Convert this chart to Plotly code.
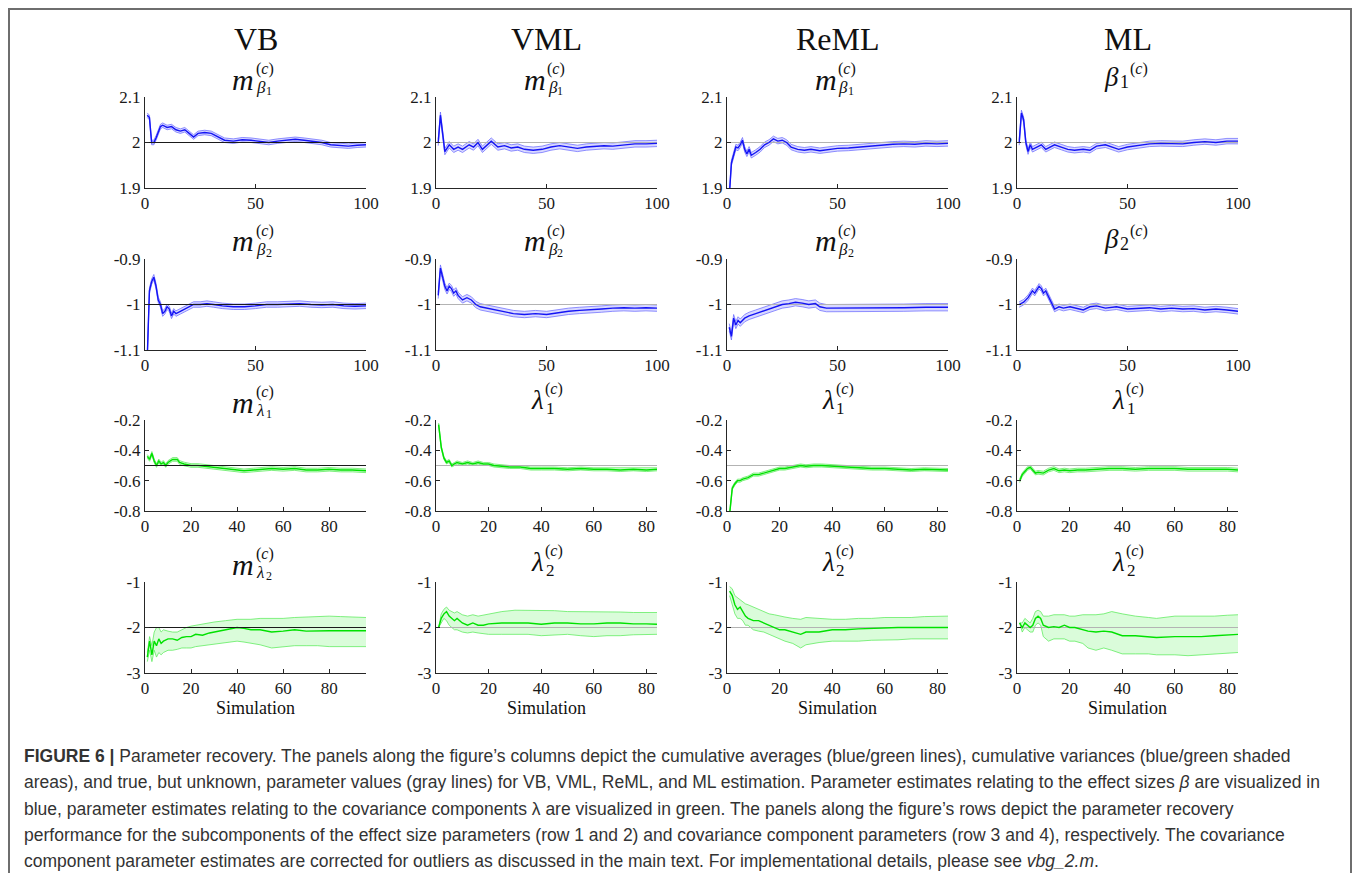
import plotly.graph_objects as go

# ---------------- data ----------------
COLUMN_TITLES = ["VB", "VML", "ReML", "ML"]
TRUE_VALUES = [2, -1, -0.5, -2]
X_LABEL = "Simulation"

# Row 1: beta_1
VB_B1_X = [1,2,3,4,5,7,8,10,12,14,16,18,20,22,24,27,30,33,36,40,44,48,52,56,60,64,68,72,76,80,84,88,92,96,100]
VB_B1_M = [2.06,2.055,2.0,2.0,2.01,2.035,2.038,2.033,2.035,2.028,2.025,2.028,2.02,2.012,2.02,2.022,2.02,2.012,2.005,2.003,
           2.006,2.005,2.003,2.0,2.003,2.005,2.007,2.005,2.002,2.0,1.995,1.993,1.992,1.994,1.995]
VML_B1_X = [1,2,4,6,8,10,12,15,17,19,21,23,25,28,31,34,37,40,44,48,52,56,60,64,68,72,76,80,85,90,95,100]
VML_B1_M = [2.0,2.06,1.98,1.995,1.985,1.99,1.985,1.995,1.99,2.0,1.985,1.995,2.003,1.99,1.993,1.988,1.99,1.985,1.983,1.985,
            1.99,1.993,1.99,1.987,1.99,1.992,1.993,1.992,1.995,1.997,1.997,1.998]
REML_B1_X = [1,2,4,5,6,7,8,9,10,11,13,15,17,19,21,23,25,27,29,32,35,38,42,46,50,55,60,65,70,75,80,85,90,95,100]
REML_B1_M = [1.88,1.955,1.99,1.988,1.995,2.005,1.985,1.975,1.985,1.972,1.978,1.985,1.995,2.0,2.008,2.003,2.005,2.0,1.99,1.985,
             1.983,1.985,1.982,1.985,1.987,1.988,1.99,1.992,1.995,1.996,1.997,1.996,1.998,1.997,1.998]
ML_B1_X = [1,2,3,4,5,6,7,9,11,13,15,17,20,23,26,30,33,36,40,43,46,50,55,60,65,70,75,80,85,90,95,100]
ML_B1_M = [2.0,2.065,2.05,2.0,1.98,1.995,1.985,1.99,1.995,1.985,1.99,1.995,1.99,1.985,1.983,1.985,1.983,1.992,1.995,1.99,
           1.985,1.99,1.993,1.997,1.998,1.998,1.997,2.0,2.002,2.0,2.003,2.003]
B1_BAND = [0.005, 0.007, 0.006, 0.006]

# Row 2: beta_2
VB_B2_X = [1,2,3,4,5,6,7,8,9,10,11,12,13,14,16,18,20,22,25,28,31,35,40,45,50,55,60,65,70,75,80,85,90,95,100]
VB_B2_M = [-1.12,-0.97,-0.95,-0.94,-0.96,-0.99,-1.0,-1.02,-1.015,-1.005,-1.01,-1.025,-1.015,-1.02,-1.015,-1.01,-1.005,-1.0,-1.0,
           -0.998,-1.0,-1.003,-1.005,-1.005,-1.003,-1.0,-1.0,-0.999,-0.998,-1.0,-1.001,-1.0,-1.003,-1.004,-1.003]
VML_B2_X = [1,2,3,4,5,6,7,8,9,10,12,14,16,18,20,25,30,35,40,45,50,55,60,65,70,75,80,85,90,95,100]
VML_B2_M = [-0.98,-0.92,-0.94,-0.96,-0.97,-0.96,-0.965,-0.975,-0.97,-0.98,-0.99,-0.985,-0.99,-1.0,-1.005,-1.01,-1.015,-1.02,
            -1.022,-1.02,-1.022,-1.018,-1.015,-1.013,-1.012,-1.01,-1.008,-1.007,-1.008,-1.007,-1.008]
REML_B2_X = [1,2,3,4,5,6,8,10,13,16,19,22,25,28,31,34,37,40,42,45,50,55,60,70,80,90,100]
REML_B2_M = [-1.05,-1.07,-1.03,-1.045,-1.035,-1.04,-1.03,-1.025,-1.02,-1.015,-1.01,-1.005,-1.0,-0.998,-0.995,-0.997,-1.0,-0.998,
             -1.005,-1.008,-1.008,-1.007,-1.008,-1.007,-1.007,-1.006,-1.006]
ML_B2_X = [1,3,5,7,8,10,11,12,13,14,15,16,17,19,21,24,27,30,33,36,40,45,50,55,60,65,70,75,80,85,90,95,100]
ML_B2_M = [-1.0,-0.995,-0.985,-0.97,-0.975,-0.96,-0.965,-0.975,-0.97,-0.98,-0.99,-1.0,-1.01,-1.005,-1.008,-1.005,-1.008,-1.012,
           -1.005,-1.003,-1.008,-1.005,-1.01,-1.008,-1.007,-1.01,-1.008,-1.01,-1.009,-1.012,-1.01,-1.012,-1.015]
B2_BAND = [0.006, 0.007, 0.008, 0.006]

# Row 3: lambda_1
VB_L1_X = [1,2,3,4,5,6,7,8,9,10,11,12,14,15,17,20,23,26,30,35,40,43,47,52,55,60,65,70,75,80,85,90,96]
VB_L1_M = [-0.44,-0.46,-0.42,-0.47,-0.5,-0.47,-0.49,-0.48,-0.5,-0.48,-0.47,-0.46,-0.46,-0.48,-0.49,-0.5,-0.5,-0.505,-0.51,-0.52,
           -0.53,-0.535,-0.53,-0.525,-0.52,-0.525,-0.52,-0.53,-0.53,-0.525,-0.53,-0.53,-0.535]
VML_L1_X = [1,2,3,4,5,6,7,8,10,12,14,16,18,20,22,25,28,32,36,40,45,50,55,60,65,70,75,80,84]
VML_L1_M = [-0.23,-0.38,-0.45,-0.48,-0.47,-0.5,-0.49,-0.48,-0.49,-0.48,-0.49,-0.48,-0.49,-0.49,-0.5,-0.505,-0.51,-0.51,-0.52,
            -0.52,-0.52,-0.525,-0.52,-0.525,-0.525,-0.53,-0.525,-0.53,-0.525]
REML_L1_X = [1,2,3,4,5,6,8,10,12,14,16,18,20,22,25,28,30,33,36,40,45,50,55,60,65,70,75,80,84]
REML_L1_M = [-0.82,-0.65,-0.62,-0.6,-0.6,-0.59,-0.58,-0.56,-0.56,-0.55,-0.54,-0.53,-0.52,-0.52,-0.51,-0.5,-0.505,-0.5,-0.5,
             -0.505,-0.51,-0.515,-0.52,-0.52,-0.525,-0.53,-0.525,-0.53,-0.53]
ML_L1_X = [1,2,3,4,5,6,7,8,10,12,14,16,18,20,23,26,30,35,40,45,50,55,60,65,70,75,80,84]
ML_L1_M = [-0.6,-0.56,-0.54,-0.52,-0.51,-0.53,-0.55,-0.545,-0.55,-0.53,-0.52,-0.535,-0.53,-0.535,-0.53,-0.53,-0.525,-0.52,
           -0.52,-0.525,-0.52,-0.52,-0.52,-0.525,-0.525,-0.525,-0.525,-0.53]
L1_BAND = [0.012, 0.01, 0.01, 0.012]

# Row 4: lambda_2 (mean, upper, lower)
VB_L2_X = [1,2,3,4,5,6,7,8,10,12,14,16,18,20,22,25,28,30,35,40,43,46,50,55,60,65,70,75,80,85,90,96]
VB_L2_M = [-2.65,-2.3,-2.6,-2.3,-2.4,-2.25,-2.35,-2.3,-2.25,-2.25,-2.28,-2.22,-2.2,-2.2,-2.15,-2.17,-2.12,-2.1,-2.05,-2.0,
           -2.02,-2.05,-2.05,-2.1,-2.08,-2.05,-2.08,-2.07,-2.07,-2.07,-2.07,-2.07]
VB_L2_U = [-2.55,-2.2,-2.4,-2.1,-2.0,-2.0,-2.1,-2.05,-2.08,-2.1,-2.1,-2.05,-2.0,-1.97,-1.95,-1.92,-1.9,-1.88,-1.85,-1.82,
           -1.82,-1.82,-1.8,-1.8,-1.8,-1.78,-1.77,-1.75,-1.75,-1.76,-1.77,-1.78]
VB_L2_L = [-2.75,-2.5,-2.75,-2.5,-2.65,-2.55,-2.6,-2.55,-2.5,-2.5,-2.48,-2.45,-2.45,-2.45,-2.42,-2.4,-2.38,-2.36,-2.33,-2.3,
           -2.32,-2.35,-2.38,-2.45,-2.42,-2.4,-2.4,-2.4,-2.42,-2.42,-2.42,-2.42]
VML_L2_X = [1,2,3,4,5,6,7,8,10,12,14,16,18,20,25,30,35,40,45,50,55,60,65,70,75,80,84]
VML_L2_M = [-2.0,-1.8,-1.7,-1.65,-1.75,-1.8,-1.85,-1.8,-1.9,-1.95,-1.9,-1.95,-1.95,-1.92,-1.9,-1.9,-1.9,-1.93,-1.9,-1.9,
            -1.92,-1.92,-1.9,-1.9,-1.92,-1.92,-1.93]
VML_L2_U = [-2.0,-1.7,-1.6,-1.55,-1.62,-1.65,-1.68,-1.65,-1.72,-1.75,-1.72,-1.75,-1.73,-1.7,-1.65,-1.62,-1.62,-1.62,-1.63,-1.65,
            -1.65,-1.65,-1.66,-1.66,-1.67,-1.67,-1.67]
VML_L2_L = [-2.0,-1.9,-1.8,-1.85,-1.95,-2.0,-2.05,-2.05,-2.1,-2.12,-2.1,-2.12,-2.14,-2.15,-2.15,-2.15,-2.15,-2.18,-2.16,-2.15,
            -2.18,-2.2,-2.18,-2.18,-2.16,-2.15,-2.15]
REML_L2_X = [1,2,3,4,5,6,7,8,10,12,14,16,18,20,22,25,28,30,35,40,45,50,55,60,65,70,75,80,84]
REML_L2_M = [-1.2,-1.3,-1.5,-1.6,-1.55,-1.65,-1.75,-1.8,-1.85,-1.85,-1.9,-1.95,-2.0,-2.05,-2.05,-2.1,-2.15,-2.1,-2.1,-2.05,
             -2.05,-2.03,-2.02,-2.0,-2.0,-2.0,-2.0,-2.0,-2.0]
REML_L2_U = [-1.1,-1.15,-1.3,-1.35,-1.4,-1.45,-1.48,-1.5,-1.55,-1.6,-1.65,-1.7,-1.72,-1.75,-1.77,-1.8,-1.82,-1.78,-1.8,-1.82,
             -1.82,-1.8,-1.8,-1.78,-1.78,-1.78,-1.76,-1.75,-1.75]
REML_L2_L = [-1.3,-1.5,-1.7,-1.8,-1.8,-1.85,-1.95,-1.95,-2.05,-2.08,-2.1,-2.15,-2.2,-2.25,-2.3,-2.35,-2.45,-2.38,-2.33,-2.3,
             -2.3,-2.3,-2.28,-2.28,-2.27,-2.25,-2.25,-2.25,-2.25]
ML_L2_X = [1,2,3,4,5,6,7,8,9,10,12,14,16,18,20,22,25,27,30,33,36,40,45,50,53,60,65,70,75,80,84]
ML_L2_M = [-1.9,-2.0,-1.9,-1.95,-2.0,-1.95,-1.8,-1.75,-1.8,-1.95,-2.0,-1.98,-2.0,-1.95,-2.0,-2.0,-2.05,-2.08,-2.1,-2.08,
           -2.1,-2.18,-2.18,-2.2,-2.22,-2.2,-2.2,-2.2,-2.18,-2.17,-2.15]
ML_L2_U = [-1.9,-1.9,-1.8,-1.85,-1.9,-1.8,-1.65,-1.62,-1.65,-1.75,-1.75,-1.72,-1.72,-1.72,-1.75,-1.75,-1.72,-1.72,-1.72,-1.7,
           -1.65,-1.7,-1.75,-1.78,-1.8,-1.75,-1.75,-1.75,-1.75,-1.73,-1.72]
ML_L2_L = [-1.9,-2.1,-2.0,-2.05,-2.1,-2.1,-1.95,-1.9,-1.95,-2.2,-2.3,-2.25,-2.25,-2.25,-2.3,-2.3,-2.35,-2.45,-2.5,-2.45,
           -2.5,-2.58,-2.58,-2.58,-2.6,-2.6,-2.62,-2.6,-2.58,-2.57,-2.55]

# axis ticks
X_TICKS_BETA = [0, 50, 100]
X_TICKS_LAMBDA = [0, 20, 40, 60, 80]
X_MAX_BETA = [100, 100, 100, 100]
X_MAX_LAMBDA = [96, 84, 84, 84]
Y_TICKS = [[1.9, 2, 2.1], [-1.1, -1, -0.9], [-0.8, -0.6, -0.4, -0.2], [-3, -2, -1]]
Y_TICK_TEXT = [["1.9", "2", "2.1"], ["-1.1", "-1", "-0.9"], ["-0.8", "-0.6", "-0.4", "-0.2"], ["-3", "-2", "-1"]]
Y_RANGES = [[1.9, 2.1], [-1.1, -0.9], [-0.8, -0.2], [-3, -1]]

CAPTION = [
    "<b>FIGURE 6 |</b> Parameter recovery. The panels along the figure\u2019s columns depict the cumulative averages (blue/green lines), cumulative variances (blue/green shaded",
    "areas), and true, but unknown, parameter values (gray lines) for VB, VML, ReML, and ML estimation. Parameter estimates relating to the effect sizes <i>\u03b2</i> are visualized in",
    "blue, parameter estimates relating to the covariance components \u03bb are visualized in green. The panels along the figure\u2019s rows depict the parameter recovery",
    "performance for the subcomponents of the effect size parameters (row 1 and 2) and covariance component parameters (row 3 and 4), respectively. The covariance",
    "component parameter estimates are corrected for outliers as discussed in the main text. For implementational details, please see <i>vbg_2.m</i>.",
]

# ---------------- assemble panels ----------------
def band(m, hw):
    return [v + hw for v in m], [v - hw for v in m]

panels = {}
for c, (x, m) in enumerate([(VB_B1_X, VB_B1_M), (VML_B1_X, VML_B1_M), (REML_B1_X, REML_B1_M), (ML_B1_X, ML_B1_M)]):
    u, l = band(m, B1_BAND[c]); panels[(0, c)] = (x, m, u, l)
for c, (x, m) in enumerate([(VB_B2_X, VB_B2_M), (VML_B2_X, VML_B2_M), (REML_B2_X, REML_B2_M), (ML_B2_X, ML_B2_M)]):
    u, l = band(m, B2_BAND[c]); panels[(1, c)] = (x, m, u, l)
for c, (x, m) in enumerate([(VB_L1_X, VB_L1_M), (VML_L1_X, VML_L1_M), (REML_L1_X, REML_L1_M), (ML_L1_X, ML_L1_M)]):
    u, l = band(m, L1_BAND[c]); panels[(2, c)] = (x, m, u, l)
panels[(3, 0)] = (VB_L2_X, VB_L2_M, VB_L2_U, VB_L2_L)
panels[(3, 1)] = (VML_L2_X, VML_L2_M, VML_L2_U, VML_L2_L)
panels[(3, 2)] = (REML_L2_X, REML_L2_M, REML_L2_U, REML_L2_L)
panels[(3, 3)] = (ML_L2_X, ML_L2_M, ML_L2_U, ML_L2_L)

# ---------------- layout geometry (page pixels, reference 1360x881) ----------------
PAGE_MARGIN = 8                      # default body margin of the html page
W, H = 1360 - 2 * PAGE_MARGIN, 881 - 2 * PAGE_MARGIN
COL_X0 = [145, 436, 727, 1017]
COL_W = 221
ROW_TOP = [97, 259, 420, 582]
ROW_H = 91

def pxx(x):
    return (x - PAGE_MARGIN) / W

def pxy(y):
    return 1 - (y - PAGE_MARGIN) / H

SERIF = "Liberation Serif, Times New Roman, serif"
SANS = "Liberation Sans, Arial, sans-serif"
AXIS_COLOR = "#262626"

BLUE = "rgb(20,20,245)"
BLUE_EDGE = "rgba(100,100,255,0.7)"
BLUE_FILL = "rgba(80,80,255,0.22)"
GREEN = "rgb(0,225,0)"
GREEN_EDGE = "rgba(90,235,90,0.75)"
GREEN_FILL = "rgba(70,240,70,0.2)"

fig = go.Figure()
layout = dict(
    autosize=True, margin=dict(l=0, r=0, t=0, b=0, autoexpand=False),
    paper_bgcolor="white", plot_bgcolor="white", showlegend=False,
)

for r in range(4):
    for c in range(4):
        k = r * 4 + c + 1
        xs = "x" if k == 1 else f"x{k}"
        ys = "y" if k == 1 else f"y{k}"
        x, m, u, l = panels[(r, c)]
        is_beta = r < 2
        line_col = BLUE if is_beta else GREEN
        edge_col = BLUE_EDGE if is_beta else GREEN_EDGE
        fill_col = BLUE_FILL if is_beta else GREEN_FILL
        xmax = X_MAX_BETA[c] if is_beta else X_MAX_LAMBDA[c]

        fig.add_trace(go.Scatter(x=x, y=u, mode="lines", line=dict(color=edge_col, width=1),
                                 xaxis=xs, yaxis=ys, hoverinfo="skip"))
        fig.add_trace(go.Scatter(x=x, y=l, mode="lines", line=dict(color=edge_col, width=1),
                                 fill="tonexty", fillcolor=fill_col, xaxis=xs, yaxis=ys, hoverinfo="skip"))
        true_col = "#1a1a1a" if c == 0 else "#b3b3b3"
        if c != 0:
            fig.add_trace(go.Scatter(x=[0, xmax], y=[TRUE_VALUES[r]] * 2, mode="lines",
                                     line=dict(color=true_col, width=1.2), xaxis=xs, yaxis=ys))
        fig.add_trace(go.Scatter(x=x, y=m, mode="lines", line=dict(color=line_col, width=1.4),
                                 xaxis=xs, yaxis=ys))
        if c == 0:
            fig.add_trace(go.Scatter(x=[0, xmax], y=[TRUE_VALUES[r]] * 2, mode="lines",
                                     line=dict(color=true_col, width=1.2), xaxis=xs, yaxis=ys))

        common = dict(showline=True, linecolor=AXIS_COLOR, linewidth=1, ticks="inside", ticklen=4,
                      tickcolor=AXIS_COLOR, tickwidth=1, showgrid=False, zeroline=False,
                      tickfont=dict(family=SERIF, size=17, color="#1a1a1a"), fixedrange=True)
        layout["xaxis" if k == 1 else f"xaxis{k}"] = dict(
            common, domain=[pxx(COL_X0[c]), pxx(COL_X0[c] + COL_W)], anchor=ys,
            range=[0, xmax], tickmode="array",
            tickvals=X_TICKS_BETA if is_beta else X_TICKS_LAMBDA,
        )
        layout["yaxis" if k == 1 else f"yaxis{k}"] = dict(
            common, domain=[pxy(ROW_TOP[r] + ROW_H), pxy(ROW_TOP[r])], anchor=xs,
            range=Y_RANGES[r], tickmode="array", tickvals=Y_TICKS[r], ticktext=Y_TICK_TEXT[r],
        )

annotations = []

def ann(text, x, y, size, xanchor="center", family=SERIF, color="#111111"):
    annotations.append(dict(text=text, x=pxx(x), y=pxy(y), xref="paper", yref="paper",
                            xanchor=xanchor, yanchor="middle", showarrow=False,
                            font=dict(family=family, size=size, color=color)))

# column titles and x labels
for c in range(4):
    cx = COL_X0[c] + COL_W / 2
    ann(COLUMN_TITLES[c], cx, 39, 32)
    ann(X_LABEL, cx, 708, 18)

# subplot titles
BASE = {0: ("<i>m</i>", "<i>\u03b2</i>", "1"), 1: ("<i>m</i>", "<i>\u03b2</i>", "2"),
        2: ("<i>m</i>", "<i>\u03bb</i>", "1"), 3: ("<i>m</i>", "<i>\u03bb</i>", "2")}
for r in range(4):
    top = ROW_TOP[r]
    for c in range(4):
        cx = COL_X0[c] + COL_W / 2
        main, sym, dig = BASE[r]
        if c == 0 or (c in (1, 2) and r < 2):
            ann(main, cx - 12, top - 18, 30)
            ann(sym, cx - 1, top - 10, 17, xanchor="left")
            ann(dig, cx + 8, top - 6, 12, xanchor="left")
            ann("(<i>c</i>)", cx - 2, top - 28, 16, xanchor="left")
        elif r >= 2:
            ann(sym, cx - 9, top - 20, 27)
            ann(dig, cx - 3, top - 12, 17, xanchor="left")
            ann("(<i>c</i>)", cx - 4, top - 31, 16, xanchor="left")
        else:
            ann(sym, cx - 16, top - 20, 27)
            ann(dig, cx - 10, top - 15, 18, xanchor="left")
            ann("(<i>c</i>)", cx + 0, top - 28, 16, xanchor="left")

# caption
CAPTION_Y = [756, 782, 809, 835, 861]
for line, y in zip(CAPTION, CAPTION_Y):
    ann(line, 22, y, 17.5, xanchor="left", family=SANS, color="#333333")

layout["annotations"] = annotations
layout["shapes"] = [dict(type="rect", xref="paper", yref="paper",
                         x0=pxx(9), y0=pxy(900), x1=pxx(1351), y1=pxy(9),
                         line=dict(color="#6e6e6e", width=2), fillcolor="rgba(0,0,0,0)")]

fig.update_layout(**layout)
fig.write_html("out.html", config={"displayModeBar": False, "staticPlot": True, "responsive": True},
               default_width="calc(100vw - 16px)", default_height="calc(100vh - 16px)")
